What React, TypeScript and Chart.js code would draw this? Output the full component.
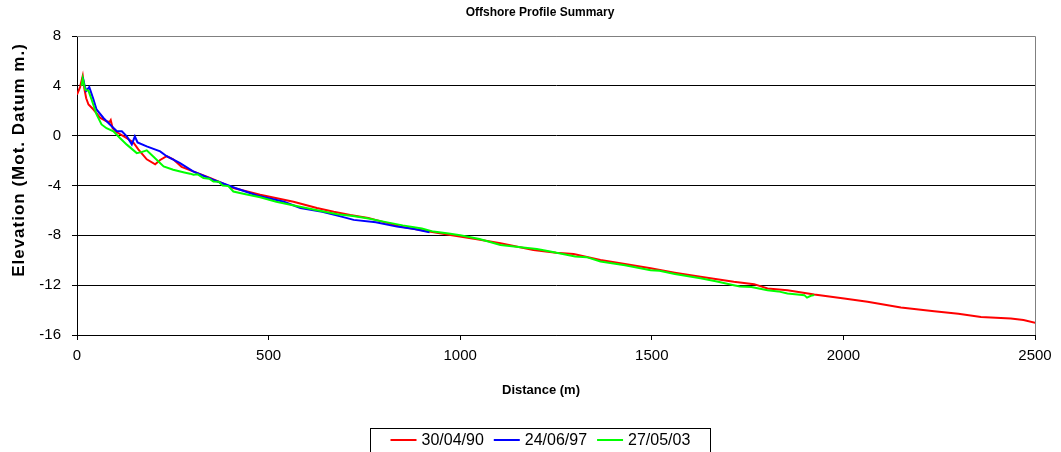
import { useEffect, useRef } from "react";
import { Chart, registerables } from "chart.js";

Chart.register(...registerables);

const FONT = "'Liberation Sans', Arial, Helvetica, sans-serif";

const chartTitle = "Offshore Profile Summary";
const xAxisTitle = "Distance (m)";
const yAxisTitle = "Elevation (Mot. Datum m.)";

const xTickMin = 0;
const xTickMax = 2500;
const xTickStep = 500;
const yTickMin = -16;
const yTickMax = 8;
const yTickStep = 4;

const seriesLabels = ["30/04/90", "24/06/97", "27/05/03"];
const seriesColors = ["#ff0000", "#0000ff", "#00ff00"];

const dist1990 = [0, 8, 15, 19, 24, 30, 43, 60, 77, 85, 88, 93, 104, 130, 147, 160, 182, 204, 217, 234, 251, 273, 303, 347, 408, 478, 565, 626, 670, 713, 760, 844, 900, 974, 1040, 1105, 1191, 1250, 1296, 1366, 1430, 1497, 1560, 1627, 1714, 1767, 1802, 1854, 1924, 2002, 2063, 2150, 2237, 2300, 2359, 2437, 2470, 2503];
const elev1990 = [3.3, 3.9, 4.8, 3.8, 3.0, 2.5, 2.1, 1.45, 1.15, 1.1, 1.25, 0.6, 0.27, -0.2, -0.55, -1.1, -1.9, -2.3, -1.95, -1.65, -1.9, -2.5, -2.87, -3.4, -4.2, -4.75, -5.3, -5.8, -6.1, -6.36, -6.6, -7.3, -7.6, -7.97, -8.3, -8.64, -9.18, -9.4, -9.5, -9.98, -10.3, -10.65, -11.0, -11.33, -11.73, -11.92, -12.27, -12.4, -12.75, -13.07, -13.34, -13.8, -14.09, -14.3, -14.55, -14.68, -14.8, -15.03];

const dist1997 = [15, 20, 24, 32, 43, 51, 69, 86, 104, 117, 130, 143, 151, 158, 182, 217, 234, 269, 303, 355, 413, 470, 540, 583, 640, 690, 722, 780, 835, 880, 920];
const elev1997 = [4.7, 4.0, 3.6, 3.9, 2.9, 2.1, 1.42, 0.9, 0.35, 0.35, -0.05, -0.7, -0.05, -0.54, -0.86, -1.26, -1.65, -2.2, -2.87, -3.54, -4.2, -4.8, -5.3, -5.8, -6.1, -6.5, -6.76, -6.95, -7.3, -7.5, -7.75];

const dist2003 = [12, 15, 18, 21, 30, 38, 51, 64, 77, 95, 112, 130, 156, 170, 182, 199, 226, 251, 280, 295, 304, 315, 330, 345, 356, 370, 380, 395, 408, 440, 478, 520, 582, 630, 680, 720, 757, 800, 850, 900, 930, 970, 1000, 1050, 1080, 1105, 1170, 1200, 1235, 1300, 1330, 1366, 1430, 1497, 1520, 1560, 1627, 1670, 1714, 1730, 1760, 1802, 1830, 1854, 1880, 1898, 1905, 1915, 1924];
const elev2003 = [4.0, 4.6, 4.2, 3.7, 3.6, 2.9, 1.7, 0.9, 0.6, 0.35, -0.19, -0.72, -1.4, -1.3, -1.18, -1.67, -2.47, -2.74, -2.95, -3.05, -3.14, -3.1, -3.4, -3.45, -3.68, -3.7, -4.0, -4.05, -4.48, -4.7, -4.94, -5.3, -5.7, -6.0, -6.3, -6.45, -6.63, -6.9, -7.2, -7.45, -7.7, -7.85, -8.0, -8.3, -8.55, -8.78, -9.0, -9.1, -9.3, -9.7, -9.75, -10.1, -10.4, -10.8, -10.85, -11.1, -11.45, -11.7, -12.0, -12.1, -12.15, -12.4, -12.5, -12.67, -12.75, -12.8, -13.0, -12.85, -12.8];

const seriesDist = [dist1990, dist1997, dist2003];
const seriesElev = [elev1990, elev1997, elev2003];

const decorPlugin = {
  id: "decor",
  afterDraw(chart: any) {
    const { ctx, chartArea } = chart;
    ctx.save();
    // plot area top/right border
    ctx.strokeStyle = "#808080";
    ctx.lineWidth = 1;
    ctx.beginPath();
    const rx = Math.round(chartArea.right) + 0.5;
    const ty = Math.round(chartArea.top) + 0.5;
    ctx.moveTo(chartArea.left, ty);
    ctx.lineTo(rx, ty);
    ctx.lineTo(rx, chartArea.bottom);
    ctx.stroke();

    // chart title
    ctx.fillStyle = "#000";
    ctx.font = `bold 12px ${FONT}`;
    ctx.textAlign = "center";
    ctx.textBaseline = "middle";
    ctx.fillText(chartTitle, 540, 13);

    // x axis title
    ctx.font = `bold 13px ${FONT}`;
    ctx.fillText(xAxisTitle, 541, 390);

    // y axis title
    ctx.save();
    ctx.translate(19, 160);
    ctx.rotate(-Math.PI / 2);
    ctx.font = `bold 17px ${FONT}`;
    (ctx as any).letterSpacing = "1px";
    ctx.fillText(yAxisTitle, 0, 0);
    ctx.restore();

    // legend
    ctx.font = `16px ${FONT}`;
    const lineLen = 26;
    const lineGap = 5;
    const itemGap = 10;
    const pad = 20;
    const widths = seriesLabels.map((l) => ctx.measureText(l).width);
    const inner = widths.reduce((a, w) => a + lineLen + lineGap + w, 0) + itemGap * (seriesLabels.length - 1);
    const boxW = inner + pad * 2;
    const boxL = Math.round(540 - boxW / 2) + 0.5;
    const boxT = 428.5;
    const boxH = 24;
    ctx.strokeStyle = "#000";
    ctx.lineWidth = 1;
    ctx.strokeRect(boxL, boxT, Math.round(boxW), boxH);
    let x = boxL + pad;
    const cy = boxT + 11.5;
    ctx.textAlign = "left";
    seriesLabels.forEach((label, i) => {
      ctx.strokeStyle = seriesColors[i];
      ctx.lineWidth = 2;
      ctx.beginPath();
      ctx.moveTo(x, cy);
      ctx.lineTo(x + lineLen, cy);
      ctx.stroke();
      x += lineLen + lineGap;
      ctx.fillStyle = "#000";
      ctx.fillText(label, x, cy + 1);
      x += widths[i] + itemGap;
    });
    ctx.restore();
  },
};

export default function App() {
  const ref = useRef<HTMLCanvasElement | null>(null);
  useEffect(() => {
    document.body.style.margin = "0";
    const canvas = ref.current;
    if (!canvas) return;
    const chart = new Chart(canvas, {
      type: "scatter",
      data: {
        datasets: seriesLabels.map((label, i) => ({
          label,
          data: seriesDist[i].map((d, j) => ({ x: d, y: seriesElev[i][j] })),
          showLine: true,
          borderColor: seriesColors[i],
          backgroundColor: seriesColors[i],
          borderWidth: 2,
          pointRadius: 0,
          pointHoverRadius: 0,
          tension: 0,
          order: 3 - i,
        })),
      },
      options: {
        responsive: false,
        animation: false,
        devicePixelRatio: 1,
        layout: { padding: { left: 0, right: 26, top: 36, bottom: 0 } },
        plugins: {
          legend: { display: false },
          title: { display: false },
          tooltip: { enabled: false },
        },
        scales: {
          x: {
            type: "linear",
            min: xTickMin,
            max: xTickMax,
            afterFit: (s: any) => {
              s.height = 117;
            },
            ticks: {
              stepSize: xTickStep,
              color: "#000",
              font: { family: FONT, size: 15 },
              padding: 7,
              maxRotation: 0,
              callback: (v: any) => String(v),
            },
            grid: {
              drawOnChartArea: false,
              drawTicks: true,
              tickLength: 5,
              color: "#000",
              tickColor: "#000",
            },
            border: { display: true, color: "#000", width: 1 },
          },
          y: {
            type: "linear",
            min: yTickMin,
            max: yTickMax,
            afterFit: (s: any) => {
              s.width = 77;
            },
            ticks: {
              stepSize: yTickStep,
              color: "#000",
              font: { family: FONT, size: 15 },
              padding: 11,
              callback: (v: any) => String(v),
            },
            grid: {
              drawTicks: true,
              tickLength: 5,
              color: (c: any) => (c.tick && c.tick.value === yTickMax ? "#808080" : "#000"),
              tickColor: "#000",
            },
            border: { display: true, color: "#000", width: 1 },
          },
        },
      },
      plugins: [decorPlugin],
    });
    return () => chart.destroy();
  }, []);
  return (
    <div style={{ position: "relative", width: 1061, height: 452 }}>
      <canvas ref={ref} width={1061} height={452} style={{ display: "block" }} />
    </div>
  );
}
